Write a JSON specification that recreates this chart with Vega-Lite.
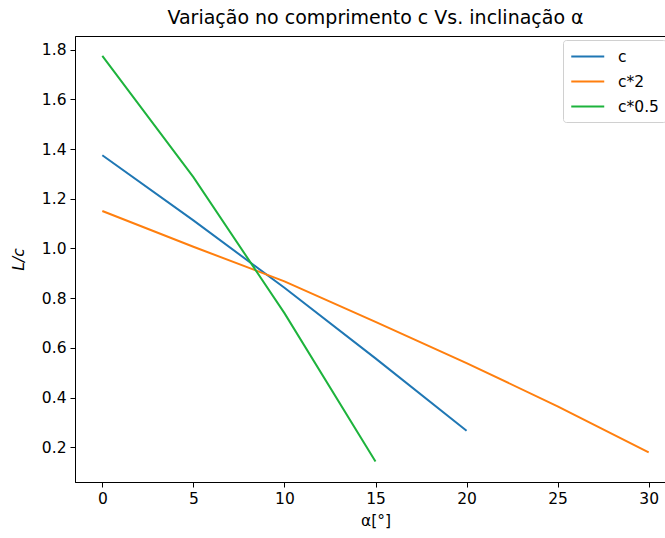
{
  "$schema": "https://vega.github.io/schema/vega-lite/v6.json",
  "width": 601,
  "height": 446,
  "autosize": {"type": "none"},
  "padding": {"left": 75, "top": 36, "right": 0, "bottom": 56},
  "background": "white",
  "title": {"text": "Variação no comprimento c Vs. inclinação α", "font": "DejaVu Sans", "fontSize": 19, "fontWeight": "normal", "color": "black", "offset": 8, "anchor": "middle"},
  "config": {
    "font": "DejaVu Sans",
    "view": {"stroke": "#000000", "strokeWidth": 1},
    "axis": {"grid": false, "domainColor": "black", "domainWidth": 1, "tickColor": "black", "tickSize": 5, "tickWidth": 1, "labelColor": "black", "labelFontSize": 15.5, "labelFont": "DejaVu Sans", "titleFont": "DejaVu Sans", "titleFontSize": 15.5, "titleFontWeight": "normal", "titleColor": "black", "labelPadding": 4}
  },
  "data": {"values": [
    {"alpha": 0, "L": 1.375, "serie": "c"},
    {"alpha": 5, "L": 1.113, "serie": "c"},
    {"alpha": 10, "L": 0.842, "serie": "c"},
    {"alpha": 15, "L": 0.558, "serie": "c"},
    {"alpha": 20, "L": 0.267, "serie": "c"},
    {"alpha": 0, "L": 1.151, "serie": "c*2"},
    {"alpha": 5, "L": 1.007, "serie": "c*2"},
    {"alpha": 10, "L": 0.868, "serie": "c*2"},
    {"alpha": 15, "L": 0.705, "serie": "c*2"},
    {"alpha": 20, "L": 0.539, "serie": "c*2"},
    {"alpha": 25, "L": 0.365, "serie": "c*2"},
    {"alpha": 30, "L": 0.18, "serie": "c*2"},
    {"alpha": 0, "L": 1.775, "serie": "c*0.5"},
    {"alpha": 5, "L": 1.287, "serie": "c*0.5"},
    {"alpha": 10, "L": 0.74, "serie": "c*0.5"},
    {"alpha": 15, "L": 0.143, "serie": "c*0.5"}
  ]},
  "mark": {"type": "line", "strokeWidth": 2},
  "encoding": {
    "x": {"field": "alpha", "type": "quantitative", "title": "α[°]",
      "scale": {"domain": [-1.5, 31.5], "nice": false, "zero": false},
      "axis": {"values": [0, 5, 10, 15, 20, 25, 30], "format": "d", "titlePadding": 7}},
    "y": {"field": "L", "type": "quantitative", "title": "L/c",
      "scale": {"domain": [0.0605, 1.855], "nice": false, "zero": false},
      "axis": {"values": [0.2, 0.4, 0.6, 0.8, 1.0, 1.2, 1.4, 1.6, 1.8], "format": ".1f", "titlePadding": 15, "titleFontStyle": "italic"}},
    "color": {"field": "serie", "type": "nominal", "title": null,
      "scale": {"domain": ["c", "c*2", "c*0.5"], "range": ["#1f77b4", "#ff7f0e", "#1db33c"]},
      "legend": {"orient": "none", "legendX": 488, "legendY": 4, "symbolType": "M-1,0H3", "symbolSize": 272, "symbolStrokeWidth": 2, "labelFontSize": 15.5, "labelColor": "black", "fillColor": "white", "strokeColor": "#d0d0d0", "cornerRadius": 3, "padding": 7, "rowPadding": 7, "labelOffset": 29}
    }
  }
}
